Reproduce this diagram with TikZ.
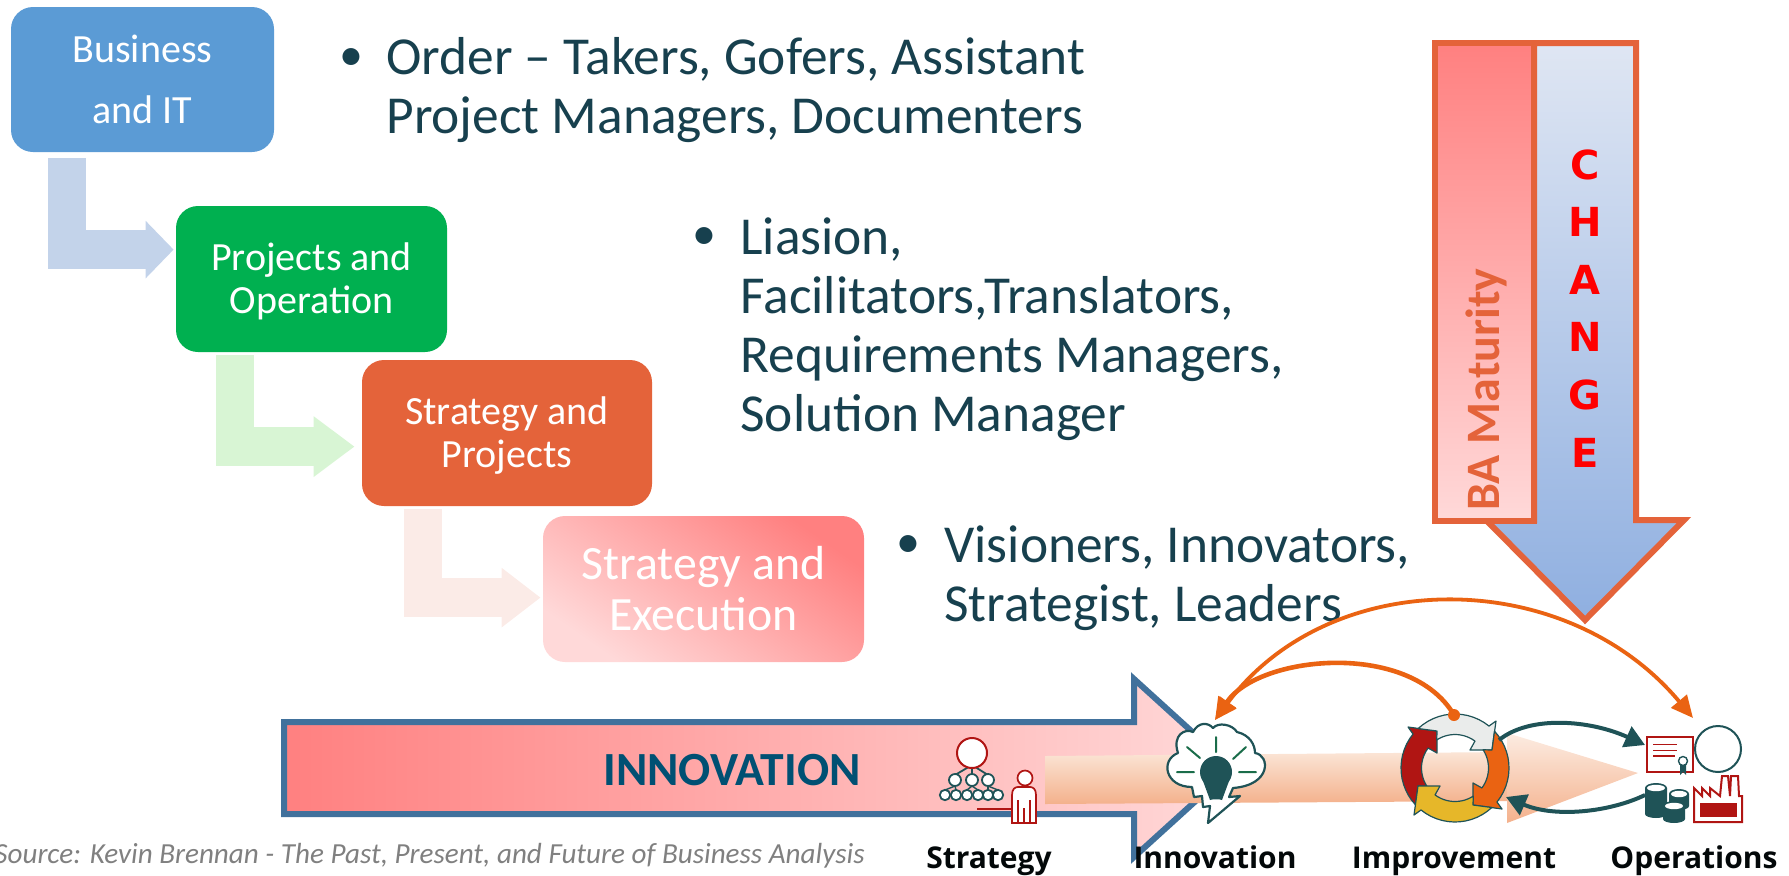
\documentclass[tikz,border=0pt]{standalone}
\usepackage{fontspec}
\setmainfont{Carlito}
\newfontfamily\labelfont{Open Sans}
\newfontfamily\changefont{DejaVu Sans}
\usetikzlibrary{arrows.meta,calc,shapes.geometric}
\definecolor{inktext}{HTML}{17404E}
\definecolor{oranged}{HTML}{E4633A}
\definecolor{tealdk}{HTML}{1F5357}
\definecolor{redicon}{HTML}{B01513}
\definecolor{orangeln}{HTML}{EA6312}
\definecolor{pinkA}{HTML}{FF8080}
\definecolor{pinkB}{HTML}{FFD9D9}
\definecolor{stroke}{HTML}{41719C}
\definecolor{boxblue}{RGB}{91,155,213}
\definecolor{boxgreen}{RGB}{0,176,80}
\definecolor{bentA}{RGB}{195,211,234}
\definecolor{bentB}{RGB}{216,245,212}
\definecolor{bentC}{RGB}{251,235,231}
\definecolor{chgtop}{RGB}{223,230,243}
\definecolor{chgbot}{RGB}{143,175,224}
\definecolor{innotext}{RGB}{0,80,115}
\definecolor{broadA}{RGB}{251,229,214}
\definecolor{broadB}{RGB}{244,177,140}
\definecolor{broadC}{RGB}{252,236,226}
\definecolor{ringyellow}{RGB}{230,183,41}
\definecolor{ringgrey}{RGB}{234,236,235}
\tikzset{
  stagebox/.style={rectangle,rounded corners=11pt,text=white,align=center,inner sep=0pt},
  bullettext/.style={anchor=base west,text=inktext,align=left,inner sep=0pt,font=\fontsize{26.7}{29.5}\selectfont},
  bulletdot/.style={anchor=center,text=inktext,inner sep=0pt,font=\fontsize{24}{29}\selectfont},
  bent/.style={line width=19.2pt,draw=#1},
  stagelabel/.style={anchor=base,text=black!90!tealdk,inner sep=0pt,font=\labelfont\bfseries\fontsize{15}{18}\selectfont},
  icon/.style={line width=0.9pt,draw=tealdk,fill=white},
  iconred/.style={line width=0.85pt,draw=redicon,fill=white},
  tealarrow/.style={draw=tealdk,line width=2pt,-{Triangle[length=10pt,width=11pt]}},
  orangearrow/.style={draw=orangeln,line width=#1},
}
\newcommand{\ringarrow}[2]{%
  \begin{scope}[shift={(1455,768)},rotate=#1]
    \filldraw[line width=0.6pt,draw=tealdk,fill=#2,line join=round]
      (-18,-37) -- (-18,-15) -- (-27,-20)
      -- plot[domain=216.5:147,samples=14] ({33.5*cos(\x)},{33.5*sin(\x)})
      -- (-37,18)
      -- plot[domain=137:219,samples=14] ({54*cos(\x)},{54*sin(\x)})
      -- (-47,-41) -- cycle;
  \end{scope}}
\newcommand{\coinstack}[4]{%
  \fill[tealdk] (#1-#3,#2) -- (#1-#3,#4) arc[start angle=180,end angle=0,x radius=#3,y radius=4] -- (#1+#3,#2) -- cycle;
  \fill[tealdk] (#1,#2) ellipse[x radius=#3,y radius=5];
  \fill[white] (#1,#2) ellipse[x radius=#3-2,y radius=3.2];}
\begin{document}
\begin{tikzpicture}[x=0.5pt,y=-0.5pt]
\useasboundingbox (0,0) rectangle (1789,875);

% stage boxes
\node[stagebox,fill=boxblue,minimum width=131.5pt,minimum height=72.5pt,font=\fontsize{20}{30.5}\selectfont] (b1) at (142.5,79.5) {Business\\and IT};
\node[stagebox,fill=boxgreen,minimum width=135.5pt,minimum height=73pt,font=\fontsize{20}{21.5}\selectfont] (b2) at (311.5,279) {\rule{0pt}{16.4pt}Projects and\\Operation};
\node[stagebox,fill=oranged,minimum width=145pt,minimum height=73pt,font=\fontsize{20}{21.5}\selectfont] (b3) at (507,433) {\rule{0pt}{16.4pt}Strategy and\\Projects};
\node[stagebox,shading=axis,top color=pinkA,bottom color=pinkB,shading angle=-35,minimum width=160.5pt,minimum height=73pt,font=\fontsize{23.9}{25.5}\selectfont] (b4) at (703.5,589) {Strategy and\\Execution};

% bent connectors
\draw[bent=bentA,-{Triangle[length=14pt,width=28pt]}]
  ($(b1.south west)+(56.5,6)$) |- ($(b2.north west)+(-2,44)$);
\draw[bent=bentB,-{Triangle[length=20.5pt,width=29pt]}]
  ($(b2.south west)+(59.5,3)$) |- ($(b3.north west)+(-7,87)$);
\draw[bent=bentC,-{Triangle[length=19.5pt,width=28.5pt]}]
  ($(b3.south west)+(61.5,3)$) |- ($(b4.north west)+(-2,82)$);

% bullets
\node[bulletdot] (d1) at (351,60) {•};
\node[bullettext] (t1) at (386,133.5) {Order – Takers, Gofers, Assistant\\Project Managers, Documenters};
\node[bulletdot] (d2) at (704,239) {•};
\node[bullettext] (t2) at (740,431) {Liasion,\\Facilitators,Translators,\\Requirements Managers,\\Solution Manager};
\node[bulletdot] (d3) at (908,547) {•};
\node[bullettext] (t3) at (944,621) {Visioners, Innovators,\\Strategist, Leaders};

% change arrow
\filldraw[line width=3pt,draw=oranged,miter limit=10,shading=axis,top color=chgtop,bottom color=chgbot]
  (1534,43) -- (1636,43) -- (1636,520) -- (1684,520) -- (1585,620) -- (1486,520) -- (1534,520) -- cycle;
\filldraw[line width=3pt,draw=oranged,top color=pinkA,bottom color=pinkB] (1435,43) rectangle (1534,521);
\node[rotate=90,anchor=base west,text=oranged,inner sep=0pt,font=\bfseries\fontsize{24}{29}\selectfont] (ba) at (1499,511) {BA Maturity};
\node[anchor=base,text=red,align=center,inner sep=0pt,font=\changefont\bfseries\fontsize{20}{28.8}\selectfont] (chg) at (1585,467) {C\\H\\A\\N\\G\\E};

% innovation arrow
\filldraw[line width=3pt,draw=stroke,left color=pinkA,right color=pinkB,miter limit=10]
  (284,722) -- (1134,722) -- (1134,679) -- (1232,768) -- (1134,857) -- (1134,814) -- (284,814) -- cycle;
\node[anchor=base west,text=innotext,inner sep=0pt,font=\bfseries\fontsize{23.8}{28}\selectfont] (inn) at (603,785) {INNOVATION};

% broad orange arrow
\shade[top color=broadA,bottom color=broadB]
  (1045,756) -- (1507,752) -- (1507,801) -- (1045,804) -- cycle;
\shade[top color=broadC,bottom color=broadB]
  (1507,733) -- (1638,773) -- (1507,823) -- cycle;

% strategy icon
\draw[line width=0.9pt,draw=tealdk] (972,765) -- (955,775) (972,765) -- (972,775) (972,765) -- (988,775);
\foreach \xa/\xb in {955/945,955/956,972/967,972/978,988/988,988/998}
  \draw[line width=0.7pt,draw=tealdk] (\xa,786) -- (\xb,790);
\foreach \cx in {955,972,988} \filldraw[icon] (\cx,780) circle[radius=6];
\foreach \cx in {945,956,967,978,988,998} \filldraw[icon] (\cx,795) circle[radius=5.2];
\filldraw[iconred,line width=1pt] (972,753) circle[radius=15];
\draw[draw=redicon,line width=1.3pt] (977,809) -- (1014,809);
\filldraw[iconred] (1012,823) -- (1012,795) .. controls (1012,789) and (1015,787) .. (1018,787) -- (1030,787) .. controls (1033,787) and (1036,789) .. (1036,795) -- (1036,823) -- cycle;
\draw[draw=redicon,line width=0.7pt] (1018,800) -- (1018,823) (1030,800) -- (1030,823) (1024,808) -- (1024,823);
\filldraw[iconred] (1025,778) circle[radius=7.5];

% innovation (cloud) icon
\filldraw[line width=1.1pt,draw=tealdk,fill=white,line join=round]
  (1192,787) .. controls (1165,787) and (1160,760) .. (1178,753)
  .. controls (1172,735) and (1185,728) .. (1193,732)
  .. controls (1198,722) and (1208,722) .. (1213,728)
  .. controls (1218,722) and (1232,724) .. (1237,732)
  .. controls (1250,735) and (1255,745) .. (1255,753)
  .. controls (1270,755) and (1272,785) .. (1233,788)
  -- (1229,797) -- (1240,796) -- (1208,823) -- (1210,806) -- (1203,807) -- (1202,796) -- (1194,797) -- cycle;
\fill[tealdk] (1216,772) circle[radius=16];
\fill[tealdk] (1203,781) -- (1229,781) -- (1222,800) .. controls (1220,799) and (1212,799) .. (1210,800) -- cycle;
\fill[tealdk,rounded corners=2pt] (1209,790) rectangle (1223,798);
\draw[line width=1pt,draw=tealdk!85!green,line cap=round] (1216,737) -- (1216,752) (1187,747) -- (1200,758) (1246,747) -- (1233,759) (1177,772) -- (1194,772) (1239,772) -- (1256,772);

% ring icon
\ringarrow{0}{redicon}
\ringarrow{-90}{ringgrey}
\ringarrow{-180}{orangeln}
\ringarrow{-270}{ringyellow}

% operations icon
\filldraw[iconred,line width=1pt] (1647,737) rectangle (1693,772);
\draw[draw=redicon,line width=0.6pt] (1653,744.5) -- (1677,744.5) (1653,750.5) -- (1677,750.5) (1653,756) -- (1675,756);
\fill[tealdk] (1680,765) -- (1680,775) -- (1683,772) -- (1686,775) -- (1686,765) -- cycle;
\filldraw[line width=0.7pt,draw=tealdk,fill=white] (1683,761) circle[radius=4.5];
\filldraw[line width=1pt,draw=tealdk,fill=white] (1718,749) circle[radius=23];
\coinstack{1656}{788}{11}{814}
\coinstack{1679}{794}{10}{806}
\coinstack{1674}{806}{11}{819}
\filldraw[iconred,line width=1pt,line join=miter] (1694,822) -- (1694,788) -- (1702,796) -- (1702,788) -- (1710,796) -- (1710,788) -- (1720,796) -- (1722,776) -- (1728,776) -- (1730,796) -- (1731,776) -- (1738,776) -- (1739,796) -- (1742,796) -- (1742,822) -- cycle;
\fill[redicon] (1700,803) rectangle (1737,817);

% connector anchors
\coordinate (ringNE) at (1499,740);
\coordinate (ringSE) at (1506,797);
\coordinate (certW) at (1645,745);
\coordinate (coinsW) at (1645,795);
\coordinate (ringTop) at (1454,715);
\coordinate (cloudTop) at (1215,720);
\coordinate (opsTop) at (1693,718);

\draw[tealarrow] (ringNE) .. controls (1530,715) and (1590,720) .. (certW);
\draw[tealarrow] (coinsW) .. controls (1610,812) and (1555,818) .. (ringSE);
\fill[orangeln] (ringTop) circle[radius=6];
\draw[orangearrow=2.3pt,-{Triangle[length=11pt,width=10pt]}] (ringTop) .. controls (1410,640) and (1258,655) .. (cloudTop);
\draw[orangearrow=1.9pt,{Triangle[length=11pt,width=10pt]}-{Triangle[length=11pt,width=10pt]}] (cloudTop) .. controls (1330,565) and (1565,565) .. (opsTop);

% bottom labels
\node[stagelabel] (l1) at (989,868) {Strategy};
\node[stagelabel] (l2) at (1215,868) {Innovation};
\node[stagelabel] (l3) at (1454,868) {Improvement};
\node[stagelabel] (l4) at (1694,868) {Operations};
\node[anchor=base east,text=black!50,inner sep=0pt,font=\itshape\fontsize{14.55}{17}\selectfont] (src) at (865,863) {Source: Kevin Brennan - The Past, Present, and Future of Business Analysis};
\end{tikzpicture}
\end{document}
